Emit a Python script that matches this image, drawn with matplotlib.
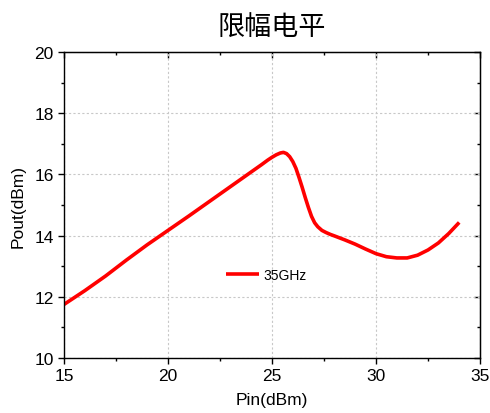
import matplotlib
matplotlib.use("Agg")
import matplotlib.pyplot as plt

# Pin (dBm) vs Pout (dBm) at 35 GHz
pin = [15, 16, 17, 18, 19, 20, 21, 22, 23, 24, 24.5, 24.8, 25, 25.2, 25.4,
       25.55, 25.7, 25.85, 26, 26.15, 26.3, 26.45, 26.6, 26.75, 26.9, 27.05,
       27.2, 27.4, 27.6, 27.8, 28, 28.5, 29, 29.5, 30, 30.5, 31, 31.5, 32,
       32.5, 33, 33.5, 34]
pout = [11.75, 12.2, 12.68, 13.2, 13.7, 14.17, 14.64, 15.12, 15.6, 16.08,
        16.32, 16.47, 16.56, 16.64, 16.7, 16.72, 16.68, 16.58, 16.42, 16.2,
        15.9, 15.58, 15.24, 14.92, 14.63, 14.42, 14.29, 14.17, 14.1, 14.04,
        13.99, 13.86, 13.72, 13.56, 13.41, 13.31, 13.27, 13.27, 13.36,
        13.53, 13.76, 14.07, 14.43]
series_label = "35GHz"
title = "限幅电平"
x_label = "Pin(dBm)"
y_label = "Pout(dBm)"
x_ticks = [15, 20, 25, 30, 35]
y_ticks = [10, 12, 14, 16, 18, 20]
x_minor = [17.5, 22.5, 27.5, 32.5]
y_minor = [11, 13, 15, 17, 19]

plt.rcParams['font.family'] = ['Liberation Sans', 'Noto Sans CJK SC', 'DejaVu Sans']

fig = plt.figure(figsize=(4.9, 4.14), dpi=100)
ax = fig.add_axes([0.1306, 0.1329, 0.849, 0.739])

ax.plot(pin, pout, color='#ff0000', lw=2.6, label=series_label,
        solid_joinstyle='round', solid_capstyle='butt')

ax.set_xlim(15, 35)
ax.set_ylim(10, 20)
ax.set_xticks(x_ticks)
ax.set_yticks(y_ticks)
ax.set_xticks(x_minor, minor=True)
ax.set_yticks(y_minor, minor=True)

ax.grid(True, which='major', color='#c8c8c8', lw=0.8, ls=(0, (2, 2)))
ax.set_axisbelow(True)

for s in ax.spines.values():
    s.set_linewidth(1.0)

ax.tick_params(which='major', direction='out', length=4.5, width=1.0,
               labelsize=12.5, pad=3)
ax.tick_params(which='minor', direction='out', length=2.5, width=1.0)

# mirrored ticks on top/right point inward
top = ax.secondary_xaxis('top')
top.set_xticks(x_ticks)
top.set_xticks(x_minor, minor=True)
top.tick_params(which='major', direction='in', length=4.5, width=1.0, labeltop=False)
top.tick_params(which='minor', direction='in', length=2.5, width=1.0)
right = ax.secondary_yaxis('right')
right.set_yticks(y_ticks)
right.set_yticks(y_minor, minor=True)
right.tick_params(which='major', direction='in', length=4.5, width=1.0, labelright=False)
right.tick_params(which='minor', direction='in', length=2.5, width=1.0)

ax.set_xlabel(x_label, fontsize=12.5, labelpad=6)
ax.set_ylabel(y_label, fontsize=12.5, labelpad=6)
ax.set_title(title, fontsize=19.5, family=['Noto Sans CJK SC'],
             fontweight='light', pad=12)

ax.legend(loc='center left', bbox_to_anchor=(0.389, 0.272), frameon=False,
          fontsize=10, borderpad=0, borderaxespad=0, handlelength=2.4,
          handletextpad=0.3)

fig.savefig("out.png", dpi=100)
